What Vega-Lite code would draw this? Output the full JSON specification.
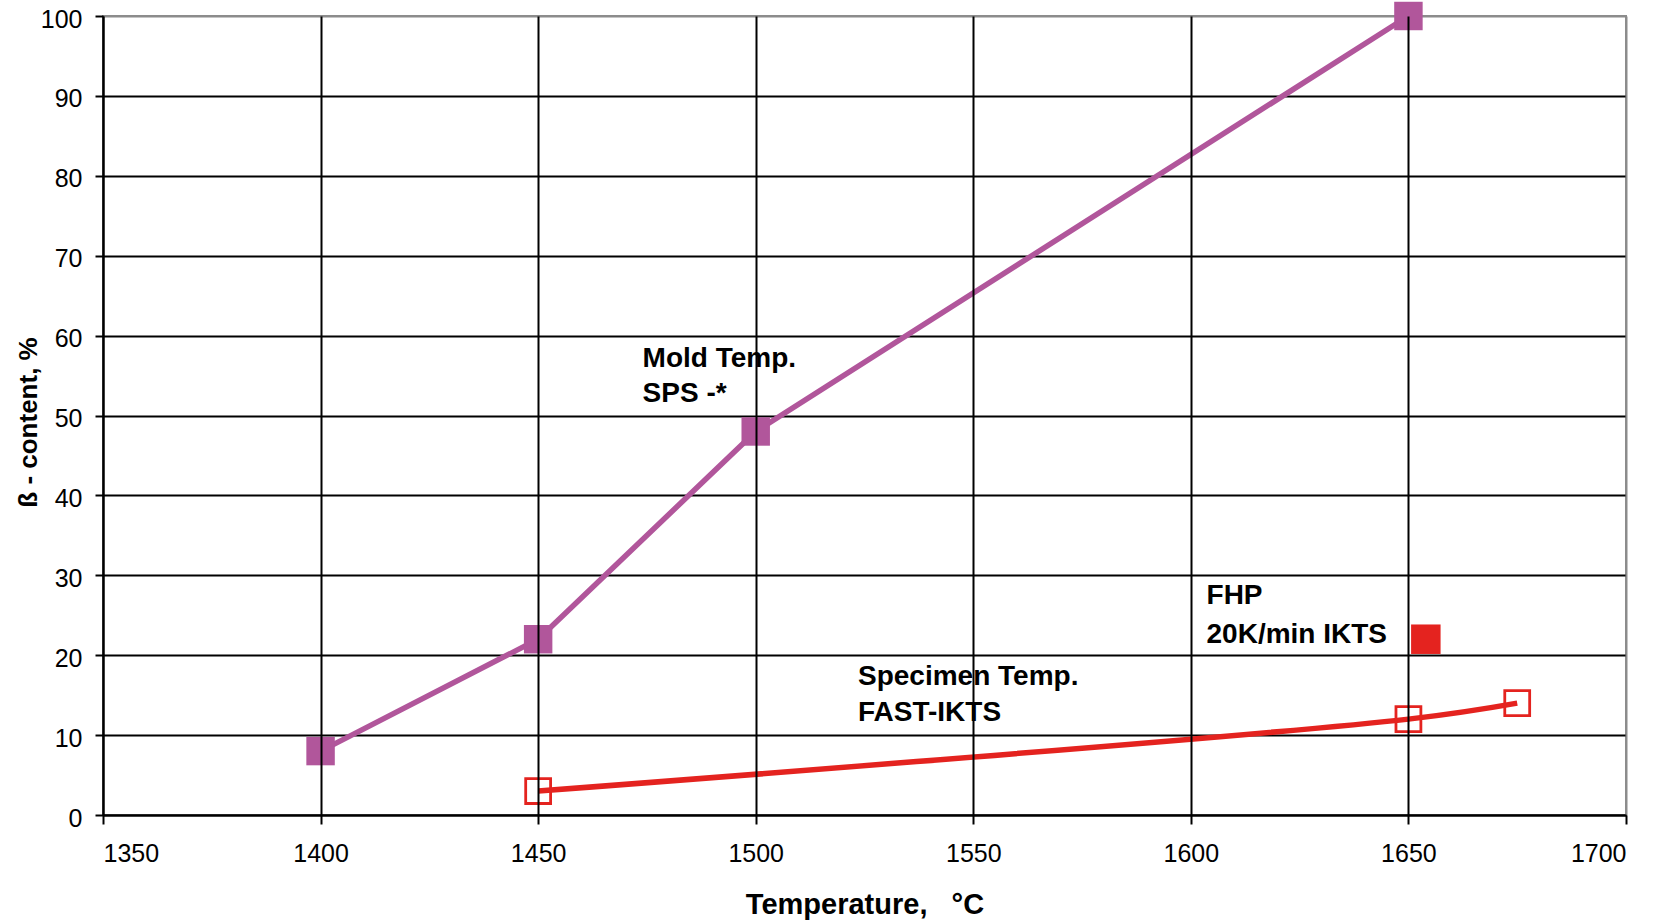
{
  "$schema": "https://vega.github.io/schema/vega-lite/v6.json",
  "width": 1523,
  "height": 799,
  "autosize": {"type": "none"},
  "padding": {"left": 103, "top": 16, "right": 36, "bottom": 105},
  "background": "white",
  "config": {
    "view": {"stroke": "#8c8c8c", "strokeWidth": 2},
    "font": "Liberation Sans"
  },
  "datasets": {
    "mold": [
      {"t": 1400, "beta": 8},
      {"t": 1450, "beta": 22},
      {"t": 1500, "beta": 48},
      {"t": 1650, "beta": 100}
    ],
    "specimen": [
      {"t": 1450, "beta": 3},
      {"t": 1650, "beta": 12},
      {"t": 1675, "beta": 14}
    ],
    "fhp": [
      {"t": 1654, "beta": 22}
    ],
    "labels": [
      {"label": "Mold Temp.", "t": 1474, "beta": 56.1},
      {"label": "SPS -*", "t": 1474, "beta": 51.7},
      {"label": "Specimen Temp.", "t": 1523.5, "beta": 16.3},
      {"label": "FAST-IKTS", "t": 1523.5, "beta": 11.8},
      {"label": "FHP", "t": 1603.6, "beta": 26.4},
      {"label": "20K/min IKTS", "t": 1603.6, "beta": 21.5}
    ]
  },
  "encoding": {
    "x": {
      "field": "t",
      "type": "quantitative",
      "scale": {"domain": [1350, 1700], "nice": false, "zero": false},
      "axis": {
        "values": [1350, 1400, 1450, 1500, 1550, 1600, 1650, 1700],
        "format": "d",
        "zindex": 1,
        "grid": true,
        "gridColor": {"condition": {"test": "datum.value === 1700", "value": "#8c8c8c"}, "value": "#000000"},
        "gridWidth": 2,
        "gridOpacity": 1,
        "domainColor": "#000000",
        "domainWidth": 2,
        "tickColor": "#000000",
        "tickWidth": 2,
        "tickSize": 9,
        "labelFontSize": 25,
        "labelColor": "#000000",
        "labelPadding": 17,
        "title": "Temperature,\u00a0\u00a0\u00a0°C",
        "titleFontSize": 29,
        "titleFontWeight": "bold",
        "titleColor": "#000000",
        "titleBaseline": "alphabetic",
        "titleY": 98
      }
    },
    "y": {
      "field": "beta",
      "type": "quantitative",
      "scale": {"domain": [0, 100], "nice": false},
      "axis": {
        "values": [0, 10, 20, 30, 40, 50, 60, 70, 80, 90, 100],
        "format": "d",
        "zindex": 0,
        "grid": true,
        "gridColor": {"condition": {"test": "datum.value === 100", "value": "#8c8c8c"}, "value": "#000000"},
        "gridWidth": 1.8,
        "gridOpacity": 1,
        "domainColor": "#000000",
        "domainWidth": 2,
        "tickColor": "#000000",
        "tickWidth": 2,
        "tickSize": 8,
        "labelFontSize": 25,
        "labelColor": "#000000",
        "labelPadding": 13,
        "labelOffset": 3,
        "title": "ß - content, %",
        "titleFontSize": 26,
        "titleFontWeight": "bold",
        "titleColor": "#000000",
        "titleAngle": -90,
        "titleAlign": "center",
        "titleBaseline": "middle",
        "titleX": -75,
        "titleY": 406
      }
    }
  },
  "layer": [
    {
      "data": {"name": "mold"},
      "mark": {"type": "line", "color": "#b1569b", "strokeWidth": 5.5}
    },
    {
      "data": {"name": "mold"},
      "mark": {"type": "point", "shape": "square", "filled": true, "size": 810, "color": "#b1569b", "opacity": 1}
    },
    {
      "data": {"name": "specimen"},
      "mark": {"type": "line", "color": "#e4231f", "strokeWidth": 5.5, "interpolate": "catmull-rom"}
    },
    {
      "data": {"name": "specimen"},
      "mark": {"type": "point", "shape": "square", "filled": false, "size": 620, "color": "#e4231f", "strokeWidth": 2.8, "fill": "white", "fillOpacity": 0, "opacity": 1}
    },
    {
      "data": {"name": "fhp"},
      "mark": {"type": "point", "shape": "square", "filled": true, "size": 870, "color": "#e4231f", "opacity": 1}
    },
    {
      "data": {"name": "labels"},
      "mark": {"type": "text", "align": "left", "baseline": "alphabetic", "fontSize": 28, "fontWeight": "bold", "color": "#000000"},
      "encoding": {"text": {"field": "label", "type": "nominal"}}
    }
  ]
}
